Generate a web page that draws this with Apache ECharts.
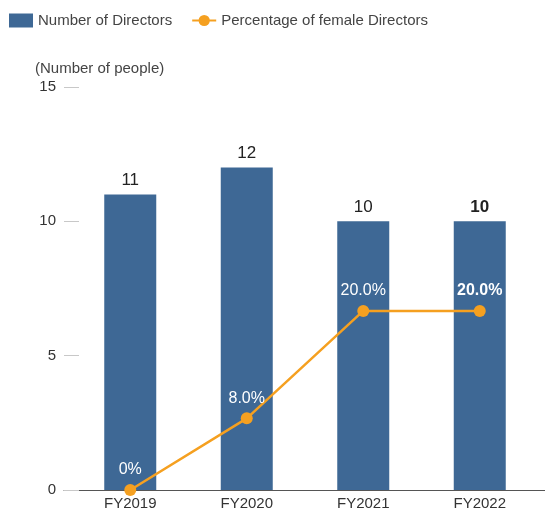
<!DOCTYPE html>
<html>
<head>
<meta charset="utf-8">
<script src="https://cdn.jsdelivr.net/npm/echarts@6/dist/echarts.min.js"></script>
<style>
  html, body { margin: 0; padding: 0; background: #fff; }
  #chart { width: 545px; height: 515px; }
</style>
</head>
<body>
<div id="chart"></div>
<script>
const categories = ['FY2019', 'FY2020', 'FY2021', 'FY2022'];
const directors = [11, 12, 10, 10];
const femalePct = [0, 8.0, 20.0, 20.0];
const pctLabels = ['0%', '8.0%', '20.0%', '20.0%'];

const blue = '#3e6895';
const orange = '#f5a020';
const font = 'Liberation Sans, Arial, sans-serif';

const chart = echarts.init(document.getElementById('chart'));

let option = {
  animation: false,
  textStyle: { fontFamily: font },
  title: {
    text: '(Number of people)',
    left: 30,
    top: 56,
    textStyle: { fontSize: 15, fontWeight: 'normal', color: '#444', fontFamily: font }
  },
  legend: {
    left: 4,
    top: 8,
    itemWidth: 24,
    itemHeight: 14,
    itemGap: 19,
    textStyle: { fontSize: 15, color: '#444', fontFamily: font },
    data: [
      { name: 'Number of Directors', icon: 'rect' },
      { name: 'Percentage of female Directors' }
    ]
  },
  grid: [
    // axis frame (line + y ticks)
    { left: 64, right: 0, top: 87, bottom: 25 },
    // plotting area
    { left: 72, right: 7, top: 87, bottom: 25 }
  ],
  xAxis: [
    {
      gridIndex: 0,
      type: 'value',
      min: 0,
      max: 1,
      axisLine: { show: true, lineStyle: { color: '#555', width: 1 } },
      axisTick: { show: false },
      axisLabel: { show: false },
      splitLine: { show: false }
    },
    {
      gridIndex: 1,
      type: 'category',
      data: categories,
      axisLine: { show: false },
      axisTick: { show: false },
      axisLabel: { fontSize: 15, color: '#333', margin: 6, fontFamily: font }
    }
  ],
  yAxis: [
    {
      gridIndex: 0,
      type: 'value',
      min: 0,
      max: 15,
      interval: 5,
      axisLine: { show: false },
      axisTick: { show: true, inside: true, length: 15, lineStyle: { color: '#c8c8c8' } },
      axisLabel: { fontSize: 15, color: '#333', margin: 8, fontFamily: font },
      splitLine: { show: false }
    },
    {
      gridIndex: 1,
      type: 'value',
      min: 0,
      max: 15,
      show: false
    },
    {
      gridIndex: 1,
      type: 'value',
      min: 0,
      max: 45,
      show: false
    }
  ],
  series: [
    {
      name: 'Number of Directors',
      type: 'bar',
      xAxisIndex: 1,
      yAxisIndex: 1,
      barWidth: 52,
      itemStyle: { color: blue },
      label: {
        show: true,
        position: 'top',
        distance: 6,
        fontSize: 17,
        color: '#222',
        fontFamily: font
      },
      data: directors.map((v, i) => i === directors.length - 1
        ? { value: v, label: { fontWeight: 'bold' } }
        : v)
    },
    {
      name: 'Percentage of female Directors',
      type: 'line',
      xAxisIndex: 1,
      yAxisIndex: 2,
      symbol: 'circle',
      symbolSize: 12,
      itemStyle: { color: orange },
      lineStyle: { color: orange, width: 2.5 },
      label: {
        show: true,
        position: 'top',
        distance: 6,
        fontSize: 16,
        color: '#fff',
        fontFamily: font,
        formatter: p => pctLabels[p.dataIndex]
      },
      data: femalePct.map((v, i) => i === femalePct.length - 1
        ? { value: v, label: { fontWeight: 'bold' } }
        : v)
    }
  ]
};

chart.setOption(option);
</script>
</body>
</html>
